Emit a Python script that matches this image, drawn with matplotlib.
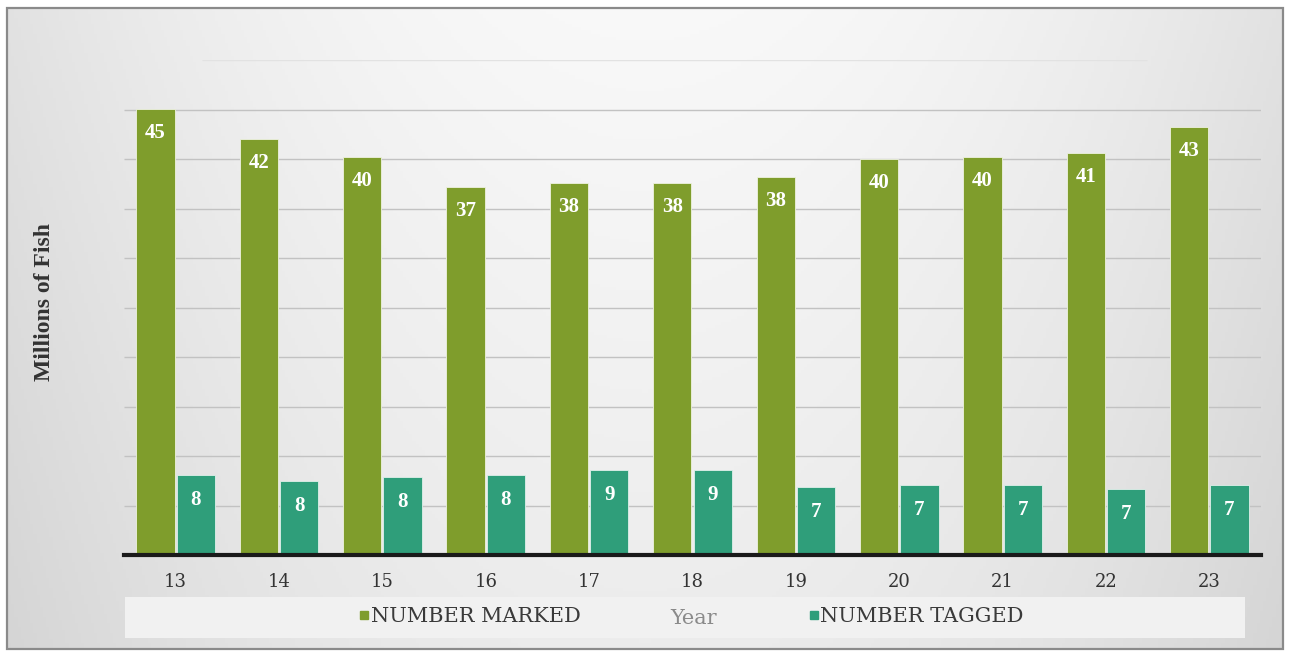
import numpy as np
import matplotlib
matplotlib.use("Agg")
import matplotlib.pyplot as plt
from matplotlib.patches import Rectangle
from matplotlib.lines import Line2D

years = ["13", "14", "15", "16", "17", "18", "19", "20", "21", "22", "23"]
marked = [45.1, 42.0, 40.2, 37.2, 37.6, 37.6, 38.2, 40.0, 40.2, 40.6, 43.2]
tagged = [8.1, 7.5, 7.9, 8.1, 8.6, 8.6, 6.9, 7.1, 7.1, 6.7, 7.1]
marked_labels = ["45", "42", "40", "37", "38", "38", "38", "40", "40", "41", "43"]
tagged_labels = ["8", "8", "8", "8", "9", "9", "7", "7", "7", "7", "7"]
grid_vals = [5, 10, 15, 20, 25, 30, 35, 40, 45, 50]

GREEN = "#7f9d2c"
TEAL = "#2f9e7a"
W, H = 1289, 653

fig = plt.figure(figsize=(W / 100, H / 100), dpi=100)
fig.patch.set_facecolor("white")

# background gradient
bg = fig.add_axes([8 / W, 4 / H, 1274 / W, 641 / H], zorder=-10)
xx = np.linspace(-1, 1, 400)
yy = np.linspace(0, 1, 200)
X, Y = np.meshgrid(xx, yy)
val = 0.975 - 0.09 * np.abs(X) ** 2.0 - 0.05 * Y
img = np.dstack([val, val, val])
bg.imshow(img, aspect="auto", extent=[0, 1, 0, 1], origin="upper")
bg.set_xlim(0, 1)
bg.set_ylim(0, 1)
bg.axis("off")

# border
fig.add_artist(Rectangle((7 / W, 4 / H), 1276 / W, 641 / H, transform=fig.transFigure,
                         fill=False, edgecolor="#8a8a8a", linewidth=1.6, zorder=20))
# legend band
fig.add_artist(Rectangle((125 / W, (H - 638) / H), 1120 / W, 41 / H, transform=fig.transFigure,
                         facecolor="#f1f1f1", edgecolor="none", zorder=-5))

ax = fig.add_axes([124 / W, (H - 555) / H, 1137 / W, 495 / H])
ax.set_facecolor("none")
x = np.arange(len(years))
bw = 0.37
off = 0.195
b1 = ax.bar(x - off, marked, bw, color=GREEN, zorder=3, edgecolor="#eef2e0", linewidth=0.6)
b2 = ax.bar(x + off, tagged, bw, color=TEAL, zorder=3, edgecolor="#e0f0ea", linewidth=0.6)

for g in grid_vals:
    if g == 50:
        ax.hlines(g, 0.25, 9.4, color="#e2e2e2", linewidth=1.0, zorder=1)
    else:
        ax.hlines(g, -0.5, 10.5, color="#c2c2c2", linewidth=1.0, zorder=1)

for rect, lab in zip(b1, marked_labels):
    ax.annotate(lab, (rect.get_x() + rect.get_width() / 2, rect.get_height()),
                xytext=(0, -24), textcoords="offset pixels", ha="center", va="center",
                color="white", fontsize=15, fontweight="bold", family="Liberation Serif", zorder=5)
for rect, lab in zip(b2, tagged_labels):
    ax.annotate(lab, (rect.get_x() + rect.get_width() / 2, rect.get_height()),
                xytext=(0, -25), textcoords="offset pixels", ha="center", va="center",
                color="white", fontsize=15, fontweight="bold", family="Liberation Serif", zorder=5)

ax.set_xlim(-0.5, 10.5)
ax.set_ylim(0, 50)
ax.set_xticks(x)
ax.set_xticklabels(years, family="DejaVu Serif", fontsize=13, color="#333333")
ax.set_yticks([])
ax.tick_params(axis="x", length=0, pad=13)
for s in ["top", "right", "left"]:
    ax.spines[s].set_visible(False)
ax.spines["bottom"].set_linewidth(3)
ax.spines["bottom"].set_color("#1a1a1a")
ax.spines["bottom"].set_zorder(6)

fig.text(45 / W, (H - 302) / H, "Millions of Fish", rotation=90, ha="center", va="center",
         family="Liberation Serif", fontweight="bold", fontsize=17, color="#333333")
fig.text(694 / W, (H - 618) / H, "Year", ha="center", va="center",
         family="DejaVu Serif", fontsize=15, color="#8a8a8a")

handles = [Line2D([], [], marker="s", linestyle="none", color=GREEN, markersize=6),
           Line2D([], [], marker="s", linestyle="none", color=TEAL, markersize=6)]
leg = fig.legend(handles, ["NUMBER MARKED", "NUMBER TAGGED"], ncol=2, frameon=False,
                 loc="center", bbox_to_anchor=(692 / W, (H - 617) / H),
                 prop={"family": "DejaVu Serif", "size": 15}, handlelength=0.4,
                 handletextpad=0.1, columnspacing=11.0)
for t in leg.get_texts():
    t.set_color("#3a3a3a")

fig.savefig("out.png", dpi=100)
